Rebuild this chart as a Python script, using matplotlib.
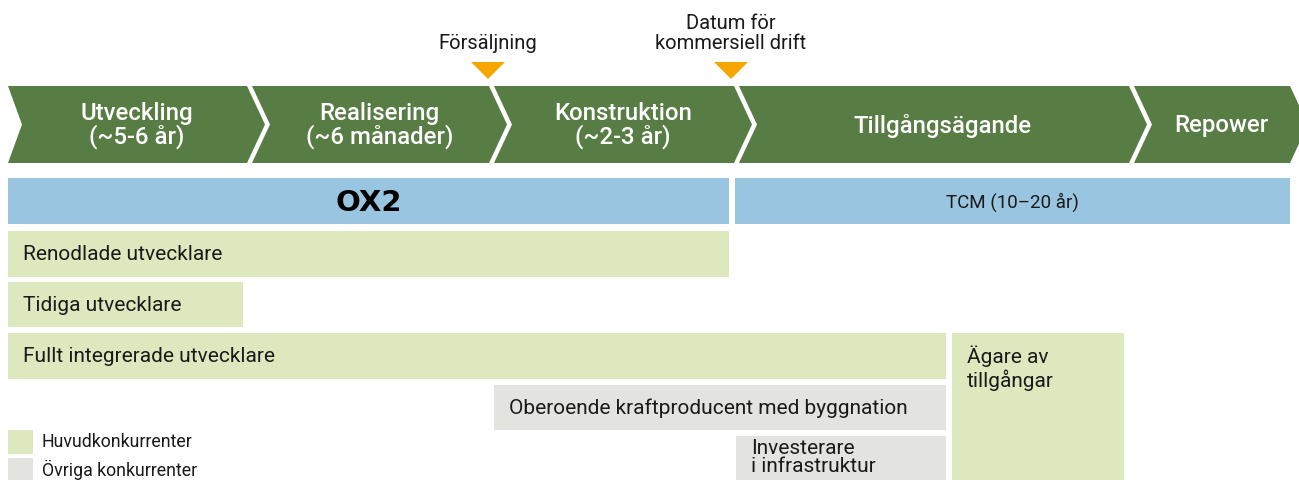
import matplotlib.pyplot as plt
from matplotlib.patches import Polygon, Rectangle

# value chain phases (chevrons)
phase_labels = ["Utveckling\n(~5-6 år)", "Realisering\n(~6 månader)", "Konstruktion\n(~2-3 år)",
                "Tillgångsägande", "Repower"]
phase_bounds = [8, 247, 489, 734, 1129, 1290]

# milestones above the chevrons
milestone_labels = ["Försäljning", "Datum för\nkommersiell drift"]
milestone_x = [488, 731]

# OX2 / TCM bar
blue_labels = ["OX2", "TCM (10–20 år)"]
blue_start = [8, 735]
blue_end = [729, 1290]

# competitor bars: label, start, end, top, bottom, kind
bar_labels = ["Renodlade utvecklare", "Tidiga utvecklare", "Fullt integrerade utvecklare",
              "Ägare av\ntillgångar", "Oberoende kraftproducent med byggnation",
              "Investerare\ni infrastruktur"]
bar_start = [8, 8, 8, 952, 494, 736]
bar_end = [729, 243, 946, 1124, 946, 946]
bar_top = [231, 282, 333, 333, 385, 436]
bar_bottom = [277, 327, 379, 480, 430, 480]
bar_kind = ["main", "main", "main", "main", "other", "other"]

legend_labels = ["Huvudkonkurrenter", "Övriga konkurrenter"]

DARK_GREEN = "#577c44"
BLUE = "#99c5e0"
LIGHT_GREEN = "#dde8bf"
GREY = "#e3e3df"
ORANGE = "#f5a700"
TEXT = "#1a1a1a"
FONT = ["Roboto", "DejaVu Sans"]

plt.rcParams["font.family"] = FONT

fig = plt.figure(figsize=(12.99, 4.8), dpi=100)
ax = fig.add_axes([0, 0, 1, 1])
ax.set_xlim(0, 1299)
ax.set_ylim(480, 0)
ax.axis("off")

# chevrons
top, bot = 86, 163
mid = (top + bot) / 2
depth, gap = 18, 5
for i, label in enumerate(phase_labels):
    x0 = phase_bounds[i] + (0 if i == 0 else gap)
    x1 = phase_bounds[i + 1]
    notch = phase_bounds[i] + (14 if i == 0 else gap + depth)
    pts = [(x0, top), (x1, top), (x1 + depth, mid), (x1, bot), (x0, bot), (notch, mid)]
    ax.add_patch(Polygon(pts, closed=True, facecolor=DARK_GREEN, edgecolor="none"))
    xc = (x0 + x1) / 2 + depth / 2
    ax.text(xc, mid + 1, label, color="white", fontsize=17.3, fontweight="medium",
            ha="center", va="center", linespacing=0.95)

# milestone markers
for label, x in zip(milestone_labels, milestone_x):
    ax.add_patch(Polygon([(x - 17, 62), (x + 17, 62), (x, 79)], closed=True,
                         facecolor=ORANGE, edgecolor="none"))
    ax.text(x, 53, label, color=TEXT, fontsize=14.5, ha="center", va="bottom",
            linespacing=1.05)

# OX2 / TCM bar
for i, label in enumerate(blue_labels):
    ax.add_patch(Rectangle((blue_start[i], 178), blue_end[i] - blue_start[i], 46,
                           facecolor=BLUE, edgecolor="none"))
    xc = (blue_start[i] + blue_end[i]) / 2
    if label == "OX2":
        ax.text(xc, 203, label, color="black", fontsize=21, fontweight="bold",
                ha="center", va="center", family=["DejaVu Sans"])
    else:
        ax.text(xc, 202, label, color=TEXT, fontsize=13.5, ha="center", va="center")

# competitor bars
for i, label in enumerate(bar_labels):
    color = LIGHT_GREEN if bar_kind[i] == "main" else GREY
    height = bar_bottom[i] - bar_top[i]
    ax.add_patch(Rectangle((bar_start[i], bar_top[i]), bar_end[i] - bar_start[i],
                           height, facecolor=color, edgecolor="none"))
    if "\n" in label:
        pad, ls = (12, 1.15) if height > 60 else (3, 0.95)
        ax.text(bar_start[i] + 15, bar_top[i] + pad, label, color=TEXT, fontsize=15,
                ha="left", va="top", linespacing=ls)
    else:
        ax.text(bar_start[i] + 15, (bar_top[i] + bar_bottom[i]) / 2 + 1, label,
                color=TEXT, fontsize=15, ha="left", va="center")

# legend
for j, (label, color) in enumerate(zip(legend_labels, [LIGHT_GREEN, GREY])):
    y0 = 430 + j * 28
    ax.add_patch(Rectangle((8, y0), 25, 24, facecolor=color, edgecolor="none"))
    ax.text(42, y0 + 12, label, color=TEXT, fontsize=12.8, ha="left", va="center")

fig.savefig("out.png", dpi=100)
